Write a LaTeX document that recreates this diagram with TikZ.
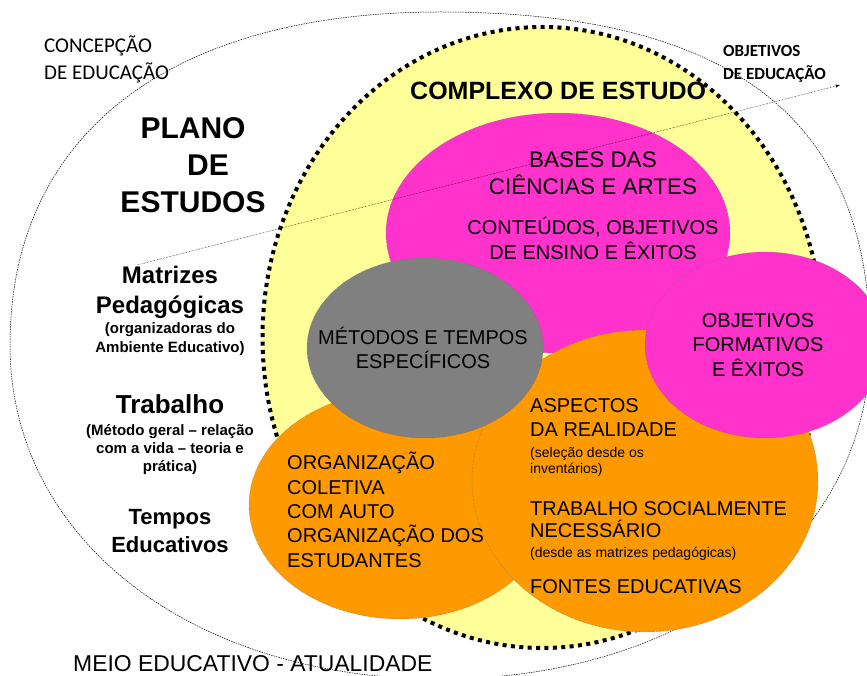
\documentclass[tikz,border=0pt]{standalone}
\usepackage{fontspec}
\setmainfont{Liberation Sans}
\newfontfamily\calibri{Carlito}
\usetikzlibrary{shapes,arrows,positioning}
\definecolor{amarelo}{RGB}{255,255,153}
\definecolor{rosa}{RGB}{255,51,204}
\definecolor{laranja}{RGB}{255,153,0}
\definecolor{cinza}{RGB}{128,128,128}
\newcommand{\tam}[2]{\fontsize{#1}{#2}\selectfont}

\begin{document}
\begin{tikzpicture}[x=1pt,y=-1pt,
  area/.style={ellipse,inner sep=0pt,draw=black!60,densely dotted,line width=.4pt},
  txt/.style={inner sep=0pt,align=center,anchor=base},
  txtl/.style={inner sep=0pt,align=left,anchor=base west}]
  \useasboundingbox (0,0) rectangle (867,676);
  \draw[line width=.5pt,dash pattern=on 1.5pt off 1pt] (10,345) .. controls (10,135) and (169,12) .. (440,12)
    .. controls (732,12) and (870,119) .. (870,345) .. controls (870,539) and (689,679) .. (440,679)
    .. controls (191,679) and (10,539) .. (10,345) -- cycle;

  \node[ellipse,inner sep=0pt,fill=amarelo,draw=black,line width=4pt,dash pattern=on 4pt off 4.4pt,
    minimum width=560,minimum height=621] (complexo) at (542.5,337.5) {};
  \node[area,fill=rosa,minimum width=344,minimum height=240] (bases) at (558,233) {};
  \node[area,fill=laranja,minimum width=302,minimum height=228] (orgcol) at (400,505) {};
  \node[area,fill=laranja,minimum width=346,minimum height=302] (aspectos) at (645,481) {};
  \node[area,fill=cinza,minimum width=236,minimum height=180] (metodos) at (425,348) {};
  \node[area,fill=rosa,minimum width=240,minimum height=186] (objform) at (765,345) {};

  % anchor=base: baseline of the last line
  \node[txtl,font=\calibri\tam{21}{27}] (concepcao) at (44,80) {CONCEPÇÃO\\DE EDUCAÇÃO};
  \node[txtl,font=\calibri\bfseries\tam{17}{23}] (objedu) at (723,80) {OBJETIVOS\\DE EDUCAÇÃO};
  \node[txtl,font=\bfseries\tam{25}{29}] (tcomplexo) at (410,100) {COMPLEXO DE ESTUDO};
  \node[txt,font=\bfseries\tam{30}{37}] (plano) at (193,213) {PLANO\\\hspace*{30pt}DE\\ESTUDOS};
  \node[txt,font=\bfseries\tam{24}{30}] (matrizes) at (170,313) {Matrizes\\Pedagógicas};
  \node[txt,font=\bfseries\tam{15}{19}] (organiz) at (170,352) {(organizadoras do\\Ambiente Educativo)};
  \node[txt,font=\bfseries\tam{26}{30}] (trabalho) at (170,413) {Trabalho};
  \node[txt,font=\bfseries\tam{15}{18}] (geral) at (170,471) {(Método geral – relação\\com a vida – teoria e\\prática)};
  \node[txt,font=\bfseries\tam{22}{28}] (tempos) at (170,552) {Tempos\\Educativos};
  \node[txtl,font=\tam{22.9}{27}] (meio) at (73,671) {MEIO EDUCATIVO - ATUALIDADE};

  \node[txt,font=\tam{22.5}{27}] (tbases) at (593,195) {BASES DAS\\CIÊNCIAS E ARTES};
  \node[txt,font=\tam{20}{25}] (conteudos) at (593,260) {CONTEÚDOS, OBJETIVOS\\DE ENSINO E ÊXITOS};
  \node[txt,font=\tam{20}{24}] (tmetodos) at (423,368) {MÉTODOS E TEMPOS\\ESPECÍFICOS};
  \node[txt,font=\tam{20}{24.5}] (tobjform) at (758,376) {OBJETIVOS\\FORMATIVOS\\E ÊXITOS};
  \node[txtl,font=\tam{20}{24}] (taspectos) at (530,436) {ASPECTOS\\DA REALIDADE};
  \node[txtl,font=\tam{14}{16}] (selecao) at (530,473) {(seleção desde os\\inventários)};
  \node[txtl,font=\tam{20}{22}] (trabsoc) at (530,537) {TRABALHO SOCIALMENTE\\NECESSÁRIO};
  \node[txtl,font=\tam{14}{17}] (desde) at (530,557) {(desde as matrizes pedagógicas)};
  \node[txtl,font=\tam{20}{24}] (fontes) at (530,593) {FONTES EDUCATIVAS};
  \node[txtl,font=\tam{20}{24.3}] (torgcol) at (287,567) {ORGANIZAÇÃO\\COLETIVA\\COM AUTO\\ORGANIZAÇÃO DOS\\ESTUDANTES};

  \coordinate (ini) at (137,265);
  \coordinate (fim) at (840,85);
  \draw[-latex,densely dotted,line width=.5pt] (ini) -- (fim);
\end{tikzpicture}
\end{document}
